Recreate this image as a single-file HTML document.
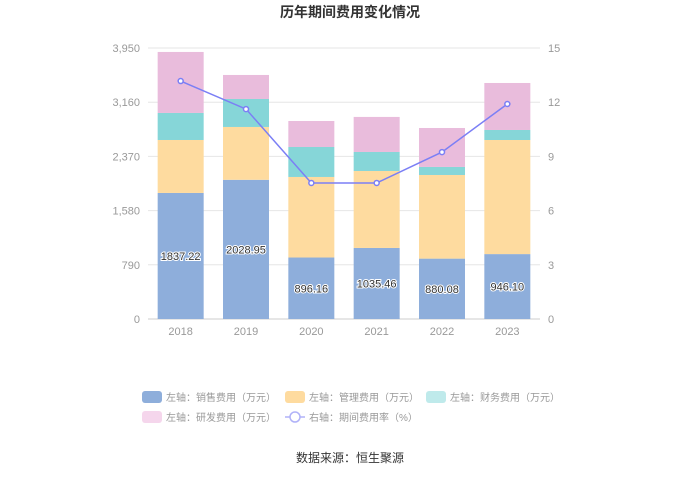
<!DOCTYPE html>
<html><head><meta charset="utf-8"><style>
body{margin:0;background:#fff;font-family:"Liberation Sans","Noto Sans CJK SC",sans-serif;}
svg text{font-family:"Liberation Sans","Noto Sans CJK SC",sans-serif;}
</style></head><body>
<svg id="c" width="700" height="473"></svg>
<script>
const categories=["2018","2019","2020","2021","2022","2023"];
const sales=[1837.22,2028.95,896.16,1035.46,880.08,946.10];
const mgmt=[772,770,1174,1122,1219,1663];
const fin=[394,408,437,277,117,146];
const rd=[889,350,379,511,568,685];
const rate=[13.17,11.62,7.53,7.53,9.24,11.9];
const leftTicks=[0,790,1580,2370,3160,3950];
const rightTicks=[0,3,6,9,12,15];
const NS="http://www.w3.org/2000/svg";
const svg=document.getElementById('c');
const X0=148,X1=540,Y0=319,Y1=48;
const bw=(X1-X0)/categories.length;
const xc=i=>X0+bw*(i+0.5);
const yl=v=>Y0-(v/3950)*(Y0-Y1);
const yr=v=>Y0-(v/15)*(Y0-Y1);
function mk(t,a,txt){const e=document.createElementNS(NS,t);for(const k in a)e.setAttribute(k,a[k]);if(txt!==undefined)e.textContent=txt;svg.appendChild(e);return e;}
let e=mk('text',{x:350,y:17,'text-anchor':'middle','font-size':14,'font-weight':'bold',fill:'#333'},'历年期间费用变化情况');

leftTicks.forEach((t,i)=>{
 const y=yl(t);
 const g=mk('line',{x1:X0,x2:X1,y1:y,y2:y,stroke:i?'#e6e6e6':'#ccc'});
 
 const l=mk('text',{x:X0-8,y:y+4,'text-anchor':'end','font-size':11,fill:'#999'},t.toLocaleString('en-US'));
 
});
rightTicks.forEach(t=>{
 const l=mk('text',{x:X1+8,y:yr(t)+4,'text-anchor':'start','font-size':11,fill:'#999'},String(t));
 
});
const series=[[sales,'#8eaedb','sales'],[mgmt,'#fedb9f','mgmt'],[fin,'#86d6d8','fin'],[rd,'#e9bcdc','rd']];
categories.forEach((c,i)=>{
 let base=0;
 series.forEach(([arr,col,nm])=>{
  const v=arr[i];
  const r=mk('rect',{x:xc(i)-23,y:yl(base+v),width:46,height:yl(base)-yl(base+v),fill:col});
  
  base+=v;
 });
 const t=mk('text',{x:xc(i),y:yl(sales[i]/2)+4,'text-anchor':'middle','font-size':11,fill:'#333',stroke:'#fff','stroke-width':2,'paint-order':'stroke'},sales[i].toFixed(2));
 
 const xl=mk('text',{x:xc(i),y:Y0+16,'text-anchor':'middle','font-size':11,fill:'#999'},c);
 
});
const pl=mk('polyline',{points:rate.map((v,i)=>xc(i)+','+yr(v)).join(' '),fill:'none',stroke:'#7b7ff5','stroke-width':1.5});

rate.forEach((v,i)=>{const p=mk('circle',{cx:xc(i),cy:yr(v),r:2.5,fill:'#fff',stroke:'#7b7ff5','stroke-width':1.5});
 });
const leg=[[152,397,'#8eaedb','左轴：销售费用（万元）'],[295,397,'#fedb9f','左轴：管理费用（万元）'],[436,397,'#bfeaeb','左轴：财务费用（万元）'],[152,417,'#f5d6ec','左轴：研发费用（万元）']];
leg.forEach(([x,y,col,txt])=>{
 const r=mk('rect',{x:x-10,y:y-6,width:20,height:12,rx:3,fill:col});
 
 const t=mk('text',{x:x+14,y:y+4,'font-size':10,fill:'#999'},txt);
 
});
let ll=mk('line',{x1:285,x2:305,y1:417,y2:417,stroke:'#b0b2f8','stroke-width':1.5});

let lc=mk('circle',{cx:295,cy:417,r:5,fill:'#fff',stroke:'#b0b2f8','stroke-width':1.5});

let lt=mk('text',{x:309,y:421,'font-size':10,fill:'#999'},'右轴：期间费用率（%）');

let src=mk('text',{x:350,y:462,'text-anchor':'middle','font-size':12,fill:'#333'},'数据来源：恒生聚源');

</script>
</body></html>
